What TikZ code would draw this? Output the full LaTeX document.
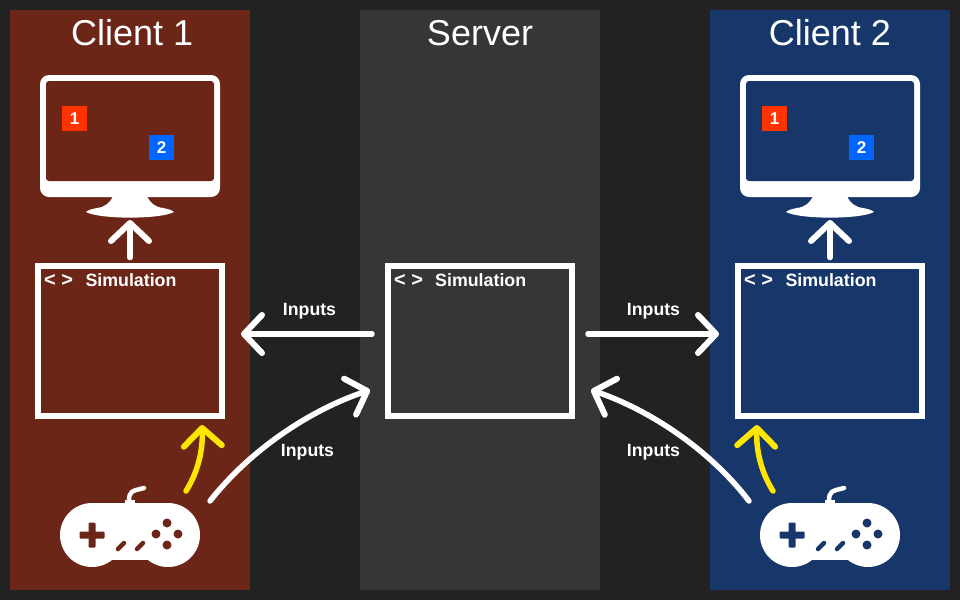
\documentclass[tikz,border=0pt]{standalone}
\usepackage{fontspec}
\setmainfont{Liberation Sans}
\usetikzlibrary{arrows.meta}
\definecolor{bgdark}{HTML}{222222}
\definecolor{srvgrey}{HTML}{363636}
\definecolor{cliRed}{HTML}{6C2617}
\definecolor{cliBlue}{HTML}{17376B}
\definecolor{sqRed}{HTML}{FF3300}
\definecolor{sqBlue}{HTML}{0066FF}
\definecolor{inYellow}{HTML}{FFE600}

\begin{document}
\begin{tikzpicture}[x=1pt,y=-1pt,
panel/.style={minimum width=240pt,minimum height=580pt,inner sep=0pt,outer sep=0pt,fill=#1},
title/.style={anchor=base,text=white,font=\fontsize{36}{36}\selectfont},
simbox/.style={draw=white,line width=6pt,minimum width=184pt,minimum height=150pt,inner sep=0pt,outer sep=0pt},
simtext/.style={anchor=base west,inner sep=0pt,text=white,font=\fontsize{17.8}{18}\selectfont\bfseries},
simtag/.style={anchor=base west,inner sep=0pt,text=white,font=\fontsize{20}{20}\selectfont\bfseries},
lbl/.style={anchor=base,inner sep=0pt,text=white,font=\fontsize{17.7}{18}\selectfont\bfseries},
sq/.style={minimum size=25pt,inner sep=0pt,outer sep=0pt,fill=#1,text=white,font=\fontsize{17}{17}\selectfont\bfseries},
arr/.style={-{Straight Barb[length=18pt,width=38pt,line width=6pt,round]},draw=#1,line width=5.5pt,line cap=round},
arr/.default=white]
\path[use as bounding box,fill=bgdark] (0,0) rectangle (960,600);
\node[panel=srvgrey] (panelS) at (480,300) {};
\node[title] (titleS) at (480,45) {Server};
\node[simbox] (simS) at (480,341) {};
\node[simtag] (simtagS) at (394,286) {< >};
\node[simtext] (simlblS) at (435,286) {Simulation};
\foreach \x/\i/\c/\tx in {0/1/cliRed/132.2,700/2/cliBlue/130} {
\begin{scope}[shift={(\x,0)}]
   \node[panel=\c] (panel\i) at (130,300) {};
   \node[title] (title\i) at (\tx,45) {Client \i};
   % monitor
   \node[fill=white,rounded corners=9pt,minimum width=180pt,minimum height=122pt,inner sep=0pt,outer sep=0pt] (mon\i) at (130,136) {};
   \node[fill=\c,rounded corners=3pt,minimum width=168pt,minimum height=100pt,inner sep=0pt] (scr\i) at (130,131) {};
   \fill[white] (113,196) .. controls (110,203) and (105,207) .. (97,208)
      .. controls (92,209) and (88,210) .. (86,212)
      .. controls (100,219.5) and (160,219.5) .. (174,212)
      .. controls (172,210) and (168,209) .. (163,208)
      .. controls (155,207) and (150,203) .. (147,196) -- cycle;
   \node[sq=sqRed] (one\i) at (74.5,118.5) {1};
   \node[sq=sqBlue] (two\i) at (161.5,147.5) {2};
   \node[simbox] (sim\i) at (130,341) {};
   \node[simtag] (simtag\i) at (44,286) {< >};
   \node[simtext] (simlbl\i) at (85.3,286) {Simulation};
   % controller
   \draw[white,line width=4.5pt,line cap=round] (129,501) .. controls (129,491) and (132,491) .. (144,488);
   \fill[white] (125,499.5) rectangle (135,504);
   \node[circle,fill=white,minimum size=64pt,inner sep=0pt,outer sep=0pt] (padL\i) at (92,535) {};
   \node[circle,fill=white,minimum size=64pt,inner sep=0pt,outer sep=0pt] (padR\i) at (168,535) {};
   \node[fill=white,minimum width=76pt,minimum height=57pt,inner sep=0pt,outer sep=0pt] (pad\i) at (130,531.5) {};
   \fill[\c,rounded corners=1pt] (79.5,531.5) rectangle (104.5,538.5);
   \fill[\c,rounded corners=1pt] (88.5,522.5) rectangle (95.5,547.5);
   \foreach \bx/\by in {167/523,156/534,178/534,167/545} {
      \fill[\c] (\bx,\by) circle (4.5pt);
   }
   \draw[\c,line width=4.5pt,line cap=round] (118,549) -- (124,543) (137,549) -- (143,543);
\end{scope}
}
\draw[arr] (sim1.north) ++(0,-8.5) coordinate (upA) -- (130,220) coordinate (tipA);
\draw[arr] (sim2.north) ++(0,-8.5) coordinate (upB) -- (830,220) coordinate (tipB);
\draw[arr,shorten <=16pt,shorten >=19pt] ([yshift=7pt]simS.west) -- ([yshift=7pt]sim1.east);
\draw[arr,shorten <=16pt,shorten >=19pt] ([yshift=7pt]simS.east) -- ([yshift=7pt]sim2.west);
\coordinate (fromA) at (210,501);
\coordinate (toS) at (370,390);
\coordinate (fromB) at (749,501);
\coordinate (toT) at (591,390);
\draw[arr] (fromA) .. controls (250,450) and (310,410) .. (toS);
\draw[arr] (fromB) .. controls (710,450) and (650,410) .. (toT);
\coordinate (yelA) at (186,491);
\coordinate (yelAt) at (202,425);
\coordinate (yelB) at (773,491);
\coordinate (yelBt) at (757,425);
\draw[arr=inYellow] (yelA) .. controls (198,472) and (203,450) .. (yelAt);
\draw[arr=inYellow] (yelB) .. controls (761,472) and (756,450) .. (yelBt);
\node[lbl] (inL) at (309.5,315) {Inputs};
\node[lbl] (inR) at (653.5,315) {Inputs};
\node[lbl] (inDL) at (307.5,456) {Inputs};
\node[lbl] (inDR) at (653.5,456) {Inputs};
\end{tikzpicture}
\end{document}
